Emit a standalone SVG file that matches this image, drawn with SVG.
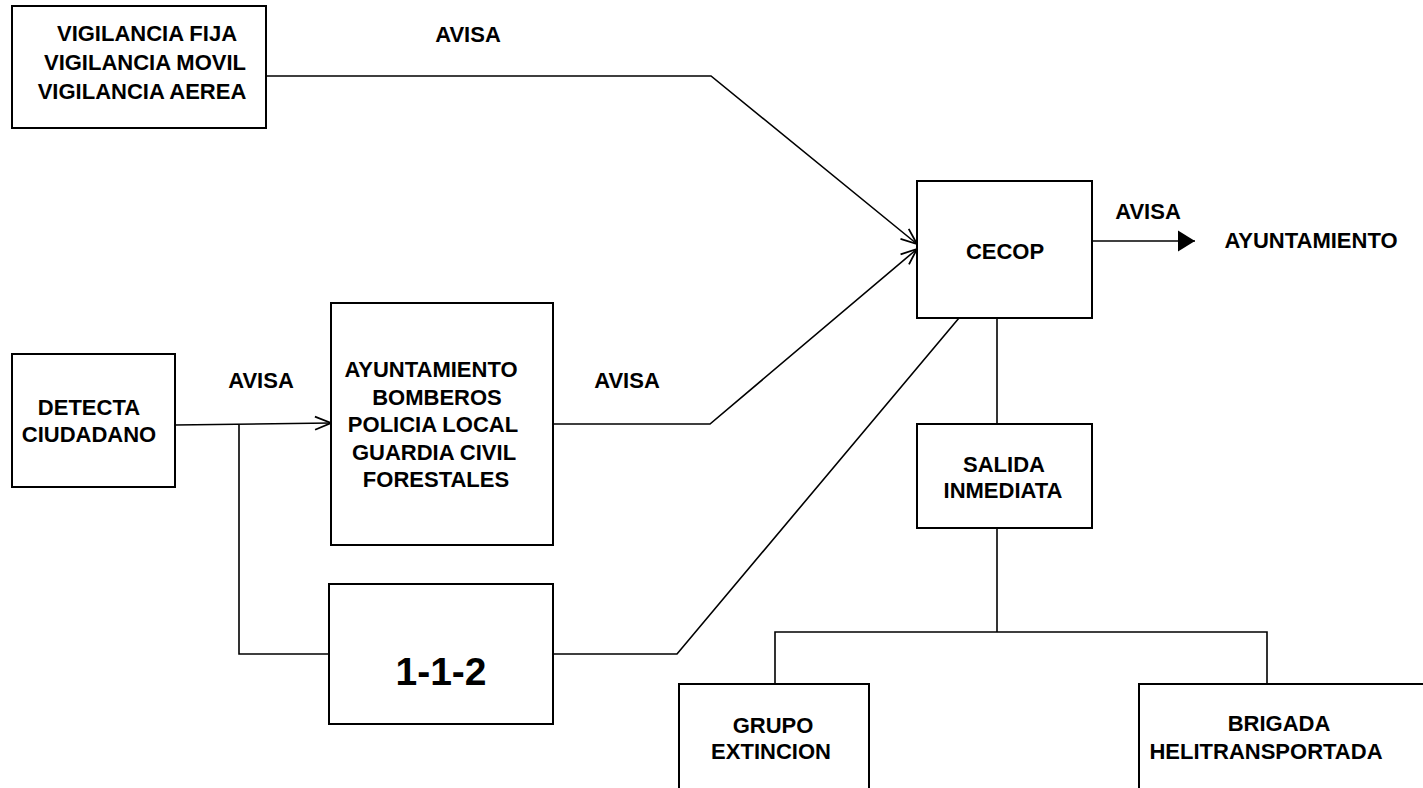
<svg xmlns="http://www.w3.org/2000/svg" width="1423" height="788" viewBox="0 0 1423 788">
<style>
.box{fill:#fff;stroke:#000;stroke-width:2}
.ln{fill:none;stroke:#000;stroke-width:1.6}
text{font-family:"Liberation Sans",Arial,sans-serif;font-weight:bold;font-size:22px;fill:#000;text-anchor:middle}
.big{font-size:39px}
</style>
<defs>
<marker id="open" markerUnits="userSpaceOnUse" markerWidth="24" markerHeight="20" viewBox="-18 -10 24 20" refX="0" refY="0" orient="auto">
<path d="M-16,-6.5 L0,0 L-16,6.5" fill="none" stroke="#000" stroke-width="1.8"/>
</marker>
<marker id="fill" markerUnits="userSpaceOnUse" markerWidth="22" markerHeight="24" viewBox="-18 -12 22 24" refX="0" refY="0" orient="auto">
<path d="M-17,-10.5 L0,0 L-17,10.5 Z" fill="#000"/>
</marker>
</defs>
<rect width="1423" height="788" fill="#fff"/>
<g id="connectors">
<polyline class="ln" points="266,76 711,76 917,244" marker-end="url(#open)"/>
<polyline class="ln" points="553,424 710,424 917,249" marker-end="url(#open)"/>
<polyline class="ln" points="175,425 331,423" marker-end="url(#open)"/>
<polyline class="ln" points="239,425 239,654 331,654"/>
<polyline class="ln" points="553,654 677,654 959,318"/>
<line class="ln" x1="1092" y1="241" x2="1195" y2="241" marker-end="url(#fill)"/>
<line class="ln" x1="997" y1="318" x2="997" y2="424"/>
<line class="ln" x1="997" y1="528" x2="997" y2="632"/>
<polyline class="ln" points="775,684 775,632 1267,632 1267,684"/>
<text x="468" y="42">AVISA</text>
<text x="261" y="388">AVISA</text>
<text x="627" y="388">AVISA</text>
<text x="1148" y="219">AVISA</text>
</g>
<g id="vigilancia">
<rect class="box" x="12" y="6" width="254" height="122"/>
<text x="147" y="41">VIGILANCIA FIJA</text>
<text x="145" y="70">VIGILANCIA MOVIL</text>
<text x="142" y="99">VIGILANCIA AEREA</text>
</g>
<g id="cecop">
<rect class="box" x="917" y="181" width="175" height="137"/>
<text x="1005" y="259">CECOP</text>
</g>
<g id="ayuntamiento-dest">
<text x="1311" y="248">AYUNTAMIENTO</text>
</g>
<g id="detecta">
<rect class="box" x="12" y="354" width="163" height="133"/>
<text x="89" y="415">DETECTA</text>
<text x="89" y="442">CIUDADANO</text>
</g>
<g id="servicios">
<rect class="box" x="331" y="303" width="222" height="242"/>
<text x="431" y="377">AYUNTAMIENTO</text>
<text x="437" y="405">BOMBEROS</text>
<text x="433" y="432">POLICIA LOCAL</text>
<text x="434" y="460">GUARDIA CIVIL</text>
<text x="436" y="487">FORESTALES</text>
</g>
<g id="n112">
<rect class="box" x="329" y="584" width="224" height="140"/>
<text class="big" x="441" y="685">1-1-2</text>
</g>
<g id="salida">
<rect class="box" x="917" y="424" width="175" height="104"/>
<text x="1004" y="472">SALIDA</text>
<text x="1003" y="498">INMEDIATA</text>
</g>
<g id="grupo">
<rect class="box" x="679" y="684" width="190" height="120"/>
<text x="773" y="733">GRUPO</text>
<text x="771" y="759">EXTINCION</text>
</g>
<g id="brigada">
<rect class="box" x="1139" y="684" width="300" height="120"/>
<text x="1279" y="731">BRIGADA</text>
<text x="1266" y="759">HELITRANSPORTADA</text>
</g>
</svg>
